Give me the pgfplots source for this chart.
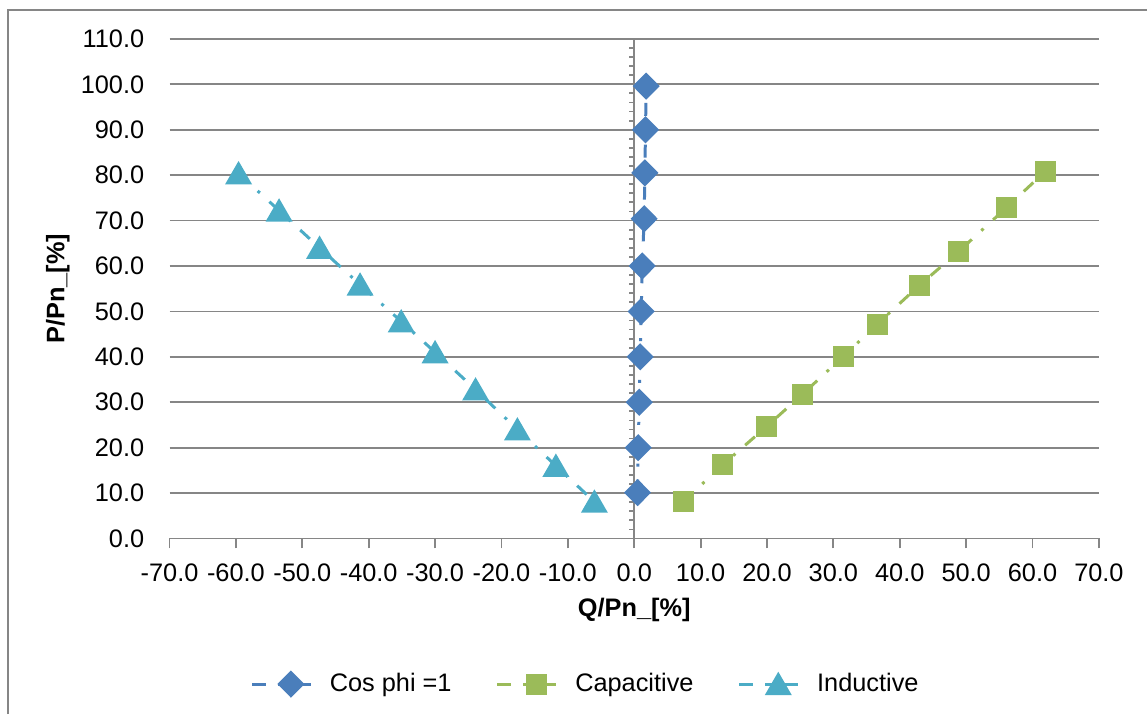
\documentclass[border=0pt]{standalone}
\usepackage{pgfplots}
\pgfplotsset{compat=1.18}
\usepackage{fontspec}
\setmainfont{Liberation Sans}

\definecolor{gridc}{RGB}{134,134,134}
\definecolor{bordc}{RGB}{134,134,134}
\definecolor{cosc}{RGB}{74,126,187}
\definecolor{capc}{RGB}{155,187,89}
\definecolor{indc}{RGB}{75,172,198}

\tikzset{dashdot/.style={line width=1.5pt, dash pattern=on 6.5pt off 6.5pt on 1.5pt off 6.5pt}}

\begin{document}
\fontsize{12.7}{15}\selectfont
\begin{tikzpicture}
\begin{axis}[
    scale only axis,
    width=466pt, height=250.5pt,
    at={(0pt,0pt)}, anchor=south west,
    xmin=-70, xmax=70, ymin=0, ymax=110,
    xtick={-70,-60,...,70},
    ytick={0,10,...,110},
    axis x line*=bottom, axis y line*=left,
    axis line style={-},
    x axis line style={gridc, line width=0.9pt},
    y axis line style={draw=none},
    ymajorgrids,
    grid style={gridc, line width=0.9pt},
    tick align=outside,
    major tick length=5pt,
    xtick style={gridc, line width=0.9pt},
    ytick style={draw=none},
    xticklabel style={inner sep=0pt, anchor=north, yshift=-7.5pt},
    yticklabel style={inner sep=0pt, anchor=east, xshift=-7.5pt},
    /pgf/number format/.cd, fixed, fixed zerofill, precision=1, assume math mode=true,
    /pgfplots/.cd,
    xlabel={\bfseries Q/Pn\_[\%]},
    ylabel={\bfseries P/Pn\_[\%]},
    xlabel style={at={(axis description cs:0.5,-0.1437)}, anchor=center},
    ylabel style={at={(axis description cs:-0.1202,0.5)}, anchor=center},
    legend style={at={(0.4495,-0.2914)}, anchor=center, draw=none,
        legend columns=3,
        /tikz/every even column/.append style={column sep=21pt}},
    legend cell align=left,
    legend image code/.code={%
        \fill[draw=none] (0pt,-0.75pt) rectangle (7pt,0.75pt);
        \fill[draw=none] (13pt,-0.75pt) rectangle (29.5pt,0.75pt);
        \draw plot coordinates {(19.5pt,0pt)};
        \path[draw=none, fill=none] (0pt,0pt) -- (37pt,0pt);},
]
% vertical axis through Q = 0 with its minor ticks
\draw[gridc, line width=0.9pt] (axis cs:0,0) -- (axis cs:0,110);
\pgfplotsinvokeforeach{2,4,...,108}{\draw[gridc, line width=0.9pt] (axis cs:0,#1) -- ++(-2.5pt,0pt);}

\addplot[cosc, dashdot, mark=diamond*, mark size=5.75pt, mark options={solid, xscale=1.33}]
    coordinates {(0.5,10.1) (0.6,20.0) (0.75,30.0) (0.9,40.0) (1.05,50.0)
        (1.2,60.0) (1.5,70.4) (1.6,80.5) (1.7,90.0) (1.8,99.6)};
\addplot[capc, dashdot, mark=square*, mark size=4.5pt, mark options={solid}]
    coordinates {(7.4,8.1) (13.3,16.2) (19.9,24.6) (25.3,31.7) (31.5,40.1)
        (36.6,47.2) (43.0,55.8) (48.8,63.1) (56.1,72.9) (61.9,80.8)};
\addplot[indc, dashdot, mark=triangle*, mark size=6.3pt, mark options={solid, yshift=-1.6pt}]
    coordinates {(-59.6,80.4) (-53.5,72.2) (-47.4,64.0) (-41.3,55.9) (-35.1,47.8)
        (-30.0,41.0) (-23.9,32.8) (-17.6,24.0) (-11.8,16.0) (-6.0,8.1)};
\legend{Cos phi =1, Capacitive, Inductive}
\end{axis}
\draw[bordc, line width=1.2pt] (-81pt,-88pt) -- (-81pt,265pt) -- (490pt,265pt);
\path[use as bounding box] (-85pt,-87.5pt) rectangle (489pt,270pt);
\end{tikzpicture}
\end{document}
